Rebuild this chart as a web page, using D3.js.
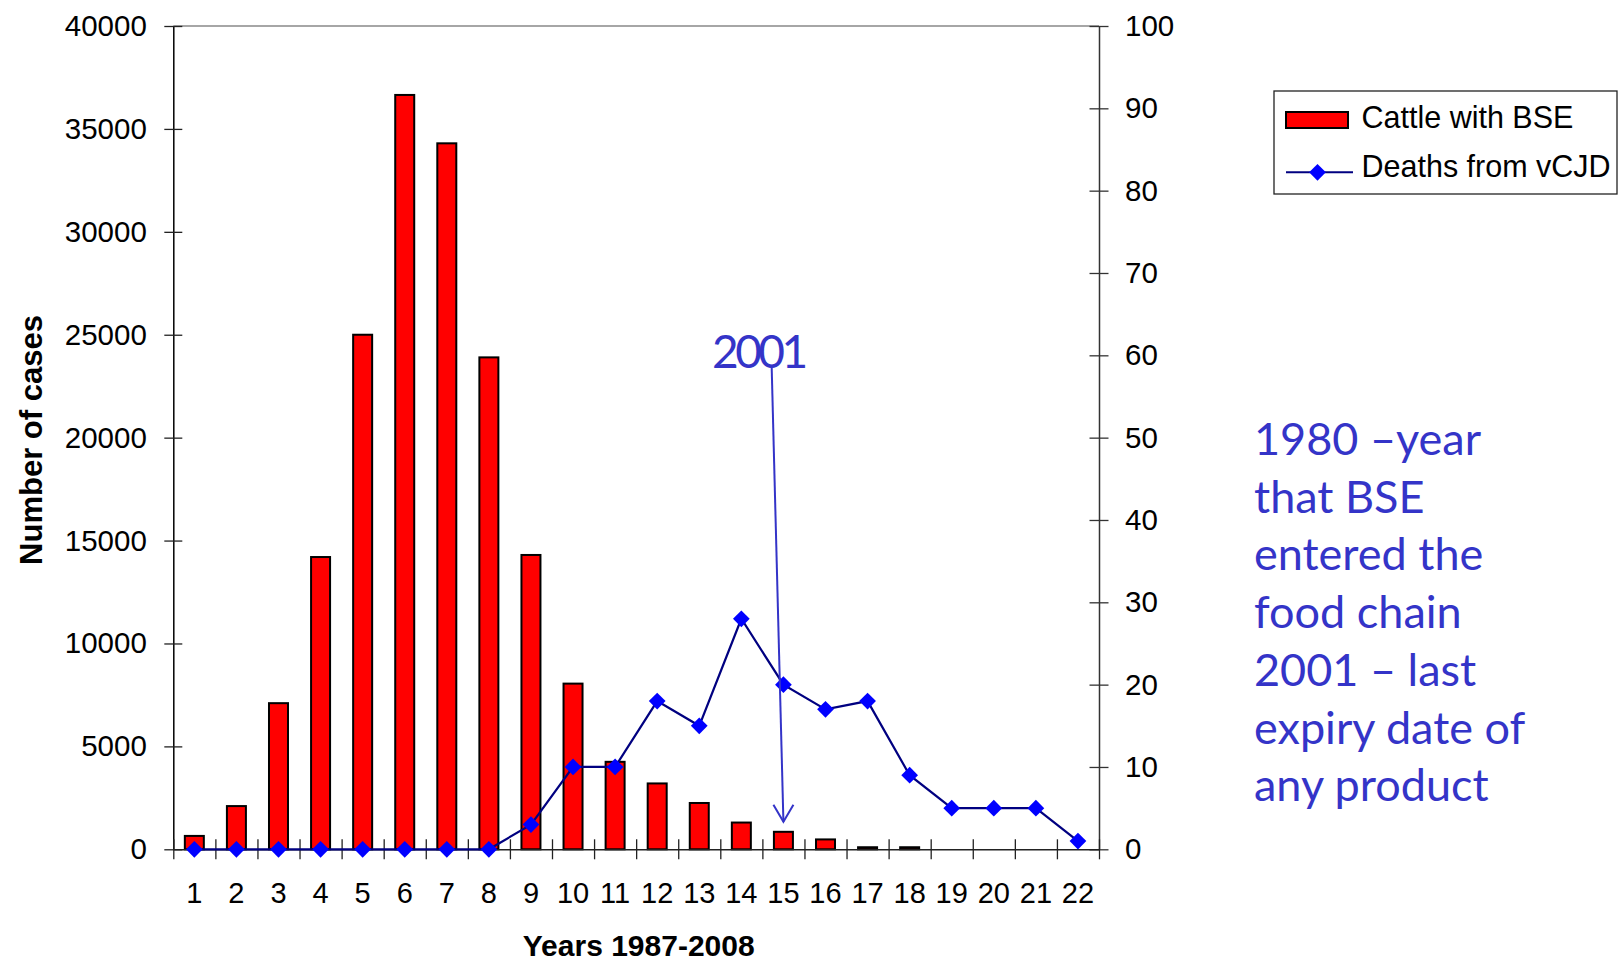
<!DOCTYPE html>
<html>
<head>
<meta charset="utf-8">
<script src="https://cdn.jsdelivr.net/npm/d3@7"></script>
<style>
  html, body { margin: 0; padding: 0; background: #fff; }
  svg { display: block; font-family: "Liberation Sans", Arial, sans-serif; }
</style>
</head>
<body>
<div id="canvas"></div>
<script>
// data
const years = ["1","2","3","4","5","6","7","8","9","10","11","12","13","14","15","16","17","18","19","20","21","22"];
const cattleBSE = [650, 2100, 7100, 14200, 25000, 36650, 34300, 23900, 14300, 8050, 4250, 3200, 2250, 1300, 850, 480, 100, 100, 0, 0, 0, 0];
const deathsVCJD = [0, 0, 0, 0, 0, 0, 0, 0, 3, 10, 10, 18, 15, 28, 20, 17, 18, 9, 5, 5, 5, 1];
const leftTicks = [0, 5000, 10000, 15000, 20000, 25000, 30000, 35000, 40000];
const rightTicks = [0, 10, 20, 30, 40, 50, 60, 70, 80, 90, 100];
const noteLines = ["1980 \u2013year", "that BSE", "entered the", "food chain", "2001 \u2013 last", "expiry date of", "any product"];

const width = 1622, height = 965;
const plotLeft = 173.3, plotRight = 1099, plotTop = 26, plotBottom = 849.3;
const blueText = "#3434c8";

const svg = d3.select("#canvas").append("svg")
  .attr("width", width)
  .attr("height", height);

const x = d3.scaleBand().domain(years).range([plotLeft, plotRight]).padding(0);
const xEdge = d3.scaleLinear().domain([0, years.length]).range([plotLeft, plotRight]);
const yL = d3.scaleLinear().domain([0, 40000]).range([plotBottom, plotTop]);
const yR = d3.scaleLinear().domain([0, 100]).range([plotBottom, plotTop]);
const barW = 19;
const cx = d => x(d) + x.bandwidth() / 2;

// top border of plot area
svg.append("line")
  .attr("x1", plotLeft).attr("x2", plotRight)
  .attr("y1", plotTop).attr("y2", plotTop)
  .attr("stroke", "#888").attr("stroke-width", 1.5);

// bars
svg.append("g").selectAll("rect")
  .data(cattleBSE.map((v, i) => ({ year: years[i], v })).filter(d => d.v > 0))
  .enter().append("rect")
  .attr("x", d => cx(d.year) - barW / 2)
  .attr("y", d => yL(d.v))
  .attr("width", barW)
  .attr("height", d => plotBottom - yL(d.v))
  .attr("fill", "#ff0000")
  .attr("stroke", "#000")
  .attr("stroke-width", 2);

// left axis
const gL = svg.append("g")
  .attr("transform", `translate(${plotLeft},0)`)
  .call(d3.axisLeft(yL).tickValues(leftTicks).tickFormat(d3.format("d"))
    .tickSize(9).tickSizeOuter(0).tickPadding(17.5));
gL.selectAll(".tick line").attr("x1", 9).attr("stroke", "#222").attr("stroke-width", 1.3);
gL.select(".domain").attr("stroke", "#000").attr("stroke-width", 1.5);
gL.selectAll("text").attr("font-size", 29.5).attr("fill", "#000").attr("font-family", "Liberation Sans, Arial");

// right axis
const gR = svg.append("g")
  .attr("transform", `translate(${plotRight},0)`)
  .call(d3.axisRight(yR).tickValues(rightTicks).tickSize(9.5).tickSizeOuter(0).tickPadding(16.5));
gR.selectAll(".tick line").attr("x1", -9.5).attr("stroke", "#333").attr("stroke-width", 1.3);
gR.select(".domain").attr("stroke", "#333").attr("stroke-width", 1.5);
gR.selectAll("text").attr("font-size", 29.5).attr("fill", "#000").attr("font-family", "Liberation Sans, Arial");

// x axis: tick marks on category boundaries
const gXe = svg.append("g")
  .attr("transform", `translate(0,${plotBottom})`)
  .call(d3.axisBottom(xEdge).tickValues(d3.range(years.length + 1)).tickFormat("").tickSize(10).tickSizeOuter(0));
gXe.selectAll(".tick line").attr("y1", -10).attr("stroke", "#222").attr("stroke-width", 1.3);
gXe.select(".domain").attr("stroke", "#222").attr("stroke-width", 1.5);

// x axis labels at category centres
const gX = svg.append("g")
  .attr("transform", `translate(0,${plotBottom})`)
  .call(d3.axisBottom(x).tickSize(0).tickPadding(33));
gX.select(".domain").remove();
gX.selectAll("text").attr("font-size", 29).attr("fill", "#000").attr("font-family", "Liberation Sans, Arial");

// deaths line
const line = d3.line()
  .x((d, i) => cx(years[i]))
  .y(d => yR(d));
svg.append("path")
  .datum(deathsVCJD)
  .attr("d", line)
  .attr("fill", "none")
  .attr("stroke", "#000080")
  .attr("stroke-width", 2.2);

const diamond = d3.symbol().type(d3.symbolSquare).size(140);
svg.append("g").selectAll("path")
  .data(deathsVCJD)
  .enter().append("path")
  .attr("d", diamond)
  .attr("transform", (d, i) => `translate(${cx(years[i])},${yR(d)}) rotate(45)`)
  .attr("fill", "#0000ff");

// axis titles
svg.append("text")
  .attr("x", 638.7).attr("y", 956)
  .attr("text-anchor", "middle")
  .attr("font-size", 30).attr("font-weight", "bold")
  .text("Years 1987-2008");

svg.append("text")
  .attr("transform", "translate(41.5,440) rotate(-90)")
  .attr("text-anchor", "middle")
  .attr("font-size", 31).attr("font-weight", "bold")
  .text("Number of cases");

// legend
const lg = svg.append("g");
lg.append("rect")
  .attr("x", 1274).attr("y", 91).attr("width", 343).attr("height", 103)
  .attr("fill", "#fff").attr("stroke", "#222").attr("stroke-width", 1.3);
lg.append("rect")
  .attr("x", 1286).attr("y", 112).attr("width", 62).attr("height", 16)
  .attr("fill", "#ff0000").attr("stroke", "#000").attr("stroke-width", 2);
lg.append("text")
  .attr("x", 1361.5).attr("y", 127.7)
  .attr("font-size", 30.5)
  .text("Cattle with BSE");
lg.append("line")
  .attr("x1", 1286).attr("x2", 1353).attr("y1", 172.3).attr("y2", 172.3)
  .attr("stroke", "#000080").attr("stroke-width", 2);
lg.append("path")
  .attr("d", diamond)
  .attr("transform", "translate(1317.5,172.3) rotate(45)")
  .attr("fill", "#0000ff");
lg.append("text")
  .attr("x", 1361.5).attr("y", 176.7)
  .attr("font-size", 30.5)
  .text("Deaths from vCJD");

// "2001" annotation with arrow to year 15
svg.append("text")
  .attr("x", 712).attr("y", 368)
  .attr("font-family", "Lato, 'Noto Sans', sans-serif")
  .attr("font-size", 46)
  .attr("letter-spacing", -3.5)
  .attr("fill", blueText)
  .text("2001");

const tipX = cx("15"), tipY = yL(cattleBSE[14]) - 10;
svg.append("line")
  .attr("x1", 771.7).attr("y1", 368)
  .attr("x2", tipX).attr("y2", tipY)
  .attr("stroke", blueText).attr("stroke-width", 2);
svg.append("path")
  .attr("d", `M${tipX - 10},${tipY - 17}L${tipX},${tipY}L${tipX + 10},${tipY - 17}`)
  .attr("fill", "none")
  .attr("stroke", blueText).attr("stroke-width", 2);

// note on the right
svg.append("g").selectAll("text")
  .data(noteLines)
  .enter().append("text")
  .attr("x", 1254)
  .attr("y", (d, i) => 455 + i * 57.7)
  .attr("font-family", "Lato, 'Noto Sans', sans-serif")
  .attr("font-size", 45)
  .attr("fill", blueText)
  .text(d => d);
</script>
</body>
</html>
